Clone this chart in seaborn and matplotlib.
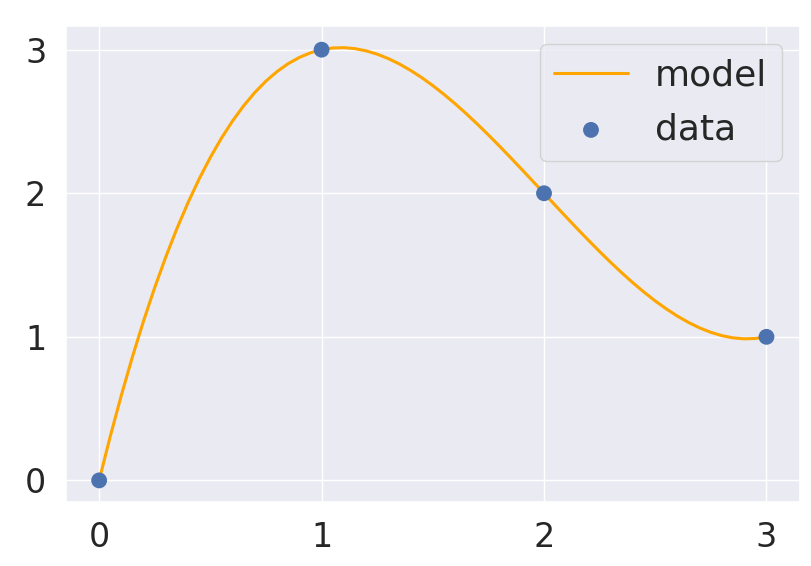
import numpy as np
import pandas as pd
import seaborn as sns
import matplotlib.pyplot as plt

# observed points
data_x = [0, 1, 2, 3]
data_y = [0, 3, 2, 1]

# model curve at 0.05 steps
model_x = [round(0.05 * i, 2) for i in range(61)]
model_y = [0.0, 0.3068, 0.594, 0.8623, 1.112, 1.3438, 1.558, 1.7553,
           1.936, 2.1008, 2.25, 2.3843, 2.504, 2.6098, 2.702, 2.7813,
           2.848, 2.9028, 2.946, 2.9783, 3.0, 3.0118, 3.014, 3.0073,
           2.992, 2.9688, 2.938, 2.9003, 2.856, 2.8058, 2.75, 2.6893,
           2.624, 2.5548, 2.482, 2.4063, 2.328, 2.2478, 2.166, 2.0833,
           2.0, 1.9168, 1.834, 1.7523, 1.672, 1.5938, 1.518, 1.4453,
           1.376, 1.3108, 1.25, 1.1943, 1.144, 1.0998, 1.062, 1.0313,
           1.008, 0.9928, 0.986, 0.9883, 1.0]

sns.set_theme(style="darkgrid")
plt.rcParams['font.family'] = ['DejaVu Sans']

fig = plt.figure(figsize=(8.12, 5.66), dpi=100)
ax = fig.add_axes([0.081, 0.113, 0.904, 0.841])

model_df = pd.DataFrame({"x": model_x, "y": model_y})
data_df = pd.DataFrame({"x": data_x, "y": data_y})

sns.lineplot(data=model_df, x="x", y="y", color="orange", linewidth=2.2,
             label="model", ax=ax)
sns.scatterplot(data=data_df, x="x", y="y", color="#4c72b0", s=130,
                edgecolor="none", label="data", ax=ax, zorder=3)

ax.set_xticks([0, 1, 2, 3])
ax.set_yticks([0, 1, 2, 3])
ax.set_xlabel("")
ax.set_ylabel("")
ax.tick_params(labelsize=24, pad=8)
ax.legend(loc="upper right", fontsize=26, handlelength=2.05,
          handletextpad=0.75, borderaxespad=0.5, labelspacing=0.55)

fig.savefig("out.png", dpi=100)
plt.close(fig)
